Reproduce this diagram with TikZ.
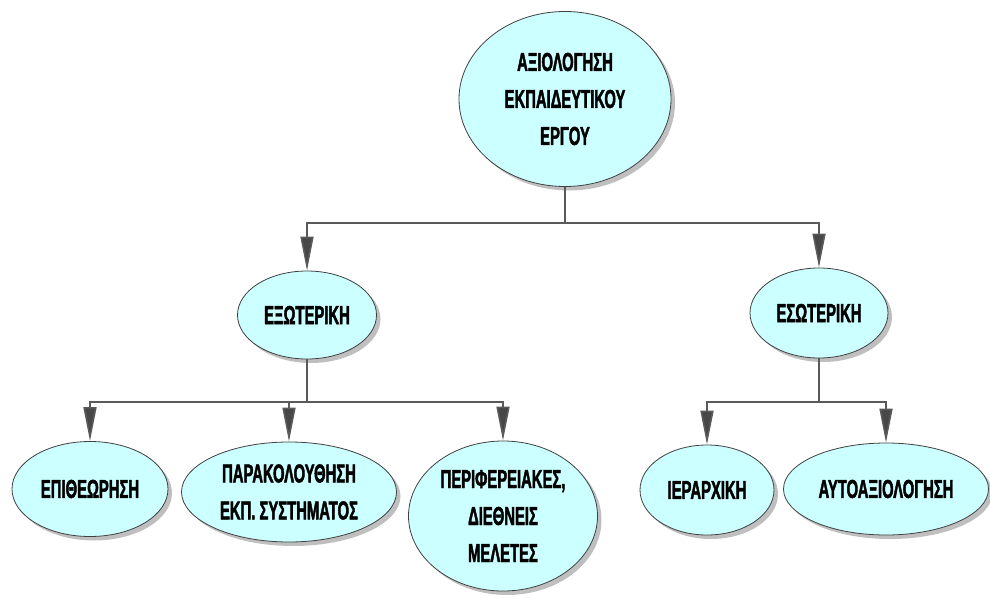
\documentclass[tikz,border=0pt]{standalone}
\usepackage{fontspec}
\newfontfamily\bubblefont{Liberation Sans Bold}[FakeStretch=0.57,FakeBold=1.6]
\usetikzlibrary{shapes.geometric,shadows,arrows.meta}
\definecolor{bubble}{HTML}{CCFFFF}
\definecolor{wire}{HTML}{5A5A5A}
\tikzset{
  bubble/.style={ellipse, draw=black!75, line width=0.8pt, fill=bubble, inner sep=0pt,
    align=center, font=\bubblefont\fontsize{26}{37}\selectfont,
    drop shadow={shadow xshift=4pt, shadow yshift=-4pt, fill=black!50}},
  wire/.style={draw=wire, line width=1.6pt},
  arr/.style={wire, -{Triangle[length=34pt,width=13pt,fill=black!72]}}
}
\begin{document}
\begin{tikzpicture}[x=1pt,y=-1pt]
\useasboundingbox (0,0) rectangle (990,597);
\node[bubble, minimum width=212pt, minimum height=175pt] (axiologisi) at (565,99) {ΑΞΙΟΛΟΓΗΣΗ\\ΕΚΠΑΙΔΕΥΤΙΚΟΥ\\ΕΡΓΟΥ};
\node[bubble, minimum width=139pt, minimum height=88pt] (exoteriki) at (307,315) {ΕΞΩΤΕΡΙΚΗ};
\node[bubble, minimum width=138pt, minimum height=90pt] (esoteriki) at (819,313) {ΕΣΩΤΕΡΙΚΗ};
\node[bubble, minimum width=156pt, minimum height=95pt] (epitheorisi) at (90,489) {ΕΠΙΘΕΩΡΗΣΗ};
\node[bubble, minimum width=215pt, minimum height=100pt] (parakolouthisi) at (289,492) {ΠΑΡΑΚΟΛΟΥΘΗΣΗ\\ΕΚΠ. ΣΥΣΤΗΜΑΤΟΣ};
\node[bubble, minimum width=189pt, minimum height=150pt] (meletes) at (503,516) {ΠΕΡΙΦΕΡΕΙΑΚΕΣ,\\ΔΙΕΘΝΕΙΣ\\ΜΕΛΕΤΕΣ};
\node[bubble, minimum width=134pt, minimum height=90pt] (ierarxiki) at (707,490) {ΙΕΡΑΡΧΙΚΗ};
\node[bubble, minimum width=205pt, minimum height=92pt] (autoaxiologisi) at (886,489) {ΑΥΤΟΑΞΙΟΛΟΓΗΣΗ};
%Drawing arrows
\coordinate (j0) at (axiologisi.south |- 0,223);
\coordinate (j1) at (exoteriki.south |- 0,402);
\coordinate (j2) at (esoteriki.south |- 0,402);
\draw[wire] (axiologisi.south) -- (j0);
\draw[arr] (j0) -| (exoteriki.north);
\draw[arr] (j0) -| (esoteriki.north);
\draw[wire] (exoteriki.south) -- (j1);
\draw[arr] (j1) -| (epitheorisi.north);
\draw[arr] (j1) -| (parakolouthisi.north);
\draw[arr] (j1) -| (meletes.north);
\draw[wire] (esoteriki.south) -- (j2);
\draw[arr] (j2) -| (ierarxiki.north);
\draw[arr] (j2) -| (autoaxiologisi.north);
\end{tikzpicture}
\end{document}
